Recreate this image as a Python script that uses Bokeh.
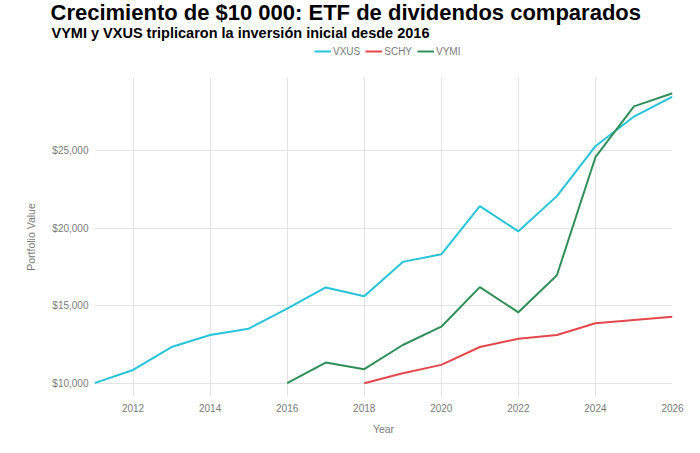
from bokeh.plotting import figure
from bokeh.layouts import column
from bokeh.models import (Range1d, FixedTicker, NumeralTickFormatter, Title,
                          Legend, LegendItem)
from bokeh.embed import file_html
from bokeh.resources import INLINE

# ---- data ----
years_vxus = [2011, 2012, 2013, 2014, 2015, 2016, 2017, 2018, 2019, 2020,
              2021, 2022, 2023, 2024, 2025, 2026]
vxus = [10000, 10850, 12330, 13110, 13510, 14800, 16170, 15610, 17820, 18310,
        21420, 19790, 22060, 25280, 27190, 28470]

years_schy = [2018, 2019, 2020, 2021, 2022, 2023, 2024, 2025, 2026]
schy = [10000, 10640, 11180, 12330, 12870, 13110, 13860, 14070, 14280]

years_vymi = [2016, 2017, 2018, 2019, 2020, 2021, 2022, 2023, 2024, 2025, 2026]
vymi = [10000, 11330, 10900, 12460, 13640, 16190, 14570, 16960, 24570, 27850, 28690]

series_names = ["VXUS", "SCHY", "VYMI"]
series_colors = ["#27c3d9", "#e4474b", "#2f8f58"]

x_ticks = [2012, 2014, 2016, 2018, 2020, 2022, 2024, 2026]
y_ticks = [10000, 15000, 20000, 25000]

title_text = "Crecimiento de $10 000: ETF de dividendos comparados"
subtitle_text = "VYMI y VXUS triplicaron la inversión inicial desde 2016"

FONT = "Liberation Sans"
GRAY = "#7a7a7a"
W = 684
HEAD_H = 77
MAIN_H = 360
FRAME_LEFT = 94
FRAME_RIGHT_PAD = 12

series = [(years_vxus, vxus), (years_schy, schy), (years_vymi, vymi)]

# ---- header: titles (top panels) + legend (in its frame) ----
head = figure(width=W, height=HEAD_H, output_backend="svg", toolbar_location=None,
              x_range=Range1d(0, 1), y_range=Range1d(0, 1),
              x_axis_type=None, y_axis_type=None,
              min_border_left=FRAME_LEFT, min_border_right=FRAME_RIGHT_PAD,
              min_border_top=0, min_border_bottom=0)
head.title.text = ""
head.outline_line_color = None
head.xgrid.visible = False
head.ygrid.visible = False

head_renderers = []
for (xs, ys), c in zip(series, series_colors):
    # same series; outside this header's ranges, so only the legend swatch shows
    head_renderers.append(head.line(xs, ys, line_color=c, line_width=2))

head.add_layout(Title(text=subtitle_text, text_font=FONT, text_font_size="14.5px",
                      text_font_style="bold", text_color="#000000", align="left",
                      offset=51 - FRAME_LEFT, standoff=0), "above")
head.add_layout(Title(text=title_text, text_font=FONT, text_font_size="22px",
                      text_font_style="bold", text_color="#000000", align="left",
                      offset=50 - FRAME_LEFT, standoff=-5), "above")

items = [LegendItem(label=n, renderers=[r]) for n, r in zip(series_names, head_renderers)]
legend = Legend(items=items, orientation="horizontal",
                location=(314 - FRAME_LEFT, HEAD_H - 57.3),
                padding=0, margin=0, spacing=5, label_standoff=2,
                glyph_width=17, glyph_height=12, label_height=12,
                label_text_font=FONT, label_text_font_size="10px",
                label_text_color=GRAY, border_line_color=None,
                background_fill_alpha=0)
head.add_layout(legend, "center")

# ---- main chart ----
p = figure(width=W, height=MAIN_H, output_backend="svg", toolbar_location=None,
           x_range=Range1d(2011, 2026), y_range=Range1d(9140, 29710),
           min_border_left=FRAME_LEFT, min_border_right=FRAME_RIGHT_PAD,
           min_border_top=0, min_border_bottom=41)
p.title.text = ""
p.outline_line_color = None

for (xs, ys), c in zip(series, series_colors):
    p.line(xs, ys, line_color=c, line_width=2)

p.xaxis.ticker = FixedTicker(ticks=x_ticks)
p.yaxis.ticker = FixedTicker(ticks=y_ticks)
p.yaxis.formatter = NumeralTickFormatter(format="$0,0")
for ax in (p.xaxis, p.yaxis):
    ax.axis_line_color = None
    ax.major_tick_line_color = None
    ax.minor_tick_line_color = None
    ax.major_tick_out = 0
    ax.major_tick_in = 0
    ax.minor_tick_out = 0
    ax.minor_tick_in = 0
    ax.major_label_text_font = FONT
    ax.major_label_text_font_size = "10px"
    ax.major_label_text_color = GRAY
    ax.axis_label_text_font = FONT
    ax.axis_label_text_font_size = "10.5px"
    ax.axis_label_text_font_style = "normal"
    ax.axis_label_text_color = GRAY
p.xaxis.axis_label = "Year"
p.yaxis.axis_label = "Portfolio Value"
p.xaxis.major_label_standoff = 7
p.yaxis.major_label_standoff = 6
p.xaxis.axis_label_standoff = 8
p.yaxis.axis_label_standoff = 12

p.xgrid.grid_line_color = "#e3e3e3"
p.ygrid.grid_line_color = "#e3e3e3"

layout = column(head, p, spacing=0)
open("out.html", "w").write(file_html(layout, INLINE))
